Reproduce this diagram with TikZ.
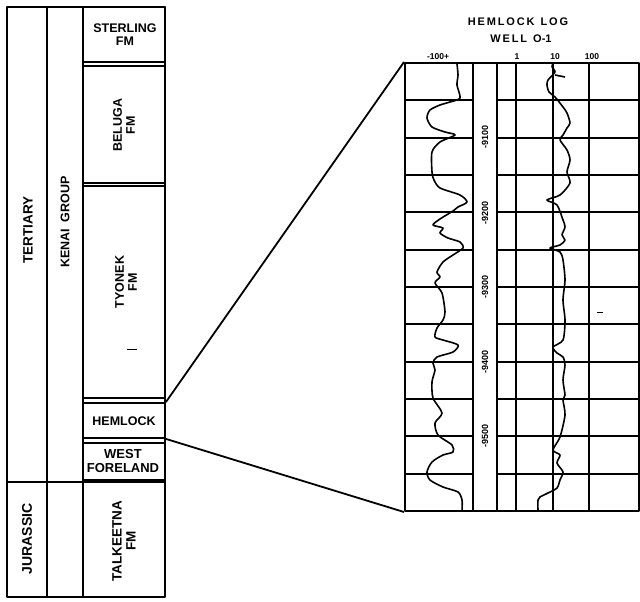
\documentclass[tikz,border=0pt]{standalone}
\usepackage{fontspec}
\setmainfont{Liberation Sans}
\begin{document}
\begin{tikzpicture}[x=1pt,y=-1pt,line join=round,
  box/.style={draw,line width=1.8pt,inner sep=0pt},
  lbl/.style={font=\fontsize{12.5}{13}\selectfont\bfseries,align=center,inner sep=0pt},
  vlbl/.style={lbl,rotate=90},
  gridline/.style={line width=2pt},
  curve/.style={line width=1.6pt},
  conn/.style={line width=1.8pt},
  depth/.style={font=\fontsize{9}{10}\selectfont\bfseries,rotate=90,inner sep=0pt},
  scalelbl/.style={font=\fontsize{8.5}{9}\selectfont\bfseries,inner sep=0pt}]
\useasboundingbox (0,0) rectangle (640,602);
% ---- stratigraphic column ----
\draw[box] (7,7) rectangle (165,597);
\draw[box] (47,7) -- (47,597);
\draw[box] (83,7) -- (83,597);
\draw[box] (7,482) -- (165,482);
\node[box,minimum width=82pt,minimum height=55pt] (sterling) at (124,34.5) {};
\node[box,minimum width=82pt,minimum height=117pt] (beluga) at (124,124.5) {};
\node[box,minimum width=82pt,minimum height=212pt] (tyonek) at (124,292) {};
\node[box,minimum width=82pt,minimum height=35pt] (hem) at (124,420.5) {};
\node[box,minimum width=82pt,minimum height=37pt] (westf) at (124,461.5) {};
\node[lbl] (tsterling) at (125,35) {STERLING\\FM};
\node[vlbl] (tbeluga) at (124,125) {BELUGA\\FM};
\node[vlbl] (ttyonek) at (126,282) {TYONEK\\FM};
\node[lbl] (themlock) at (124,421) {HEMLOCK};
\node[lbl,font=\fontsize{13}{14}\selectfont\bfseries] (twestf) at (123,461) {WEST\\FORELAND};
\node[vlbl,font=\fontsize{13.5}{14}\selectfont\bfseries] (ttalk) at (124,541) {TALKEETNA\\FM};
\node[vlbl,font=\fontsize{13.5}{14}\selectfont\bfseries] (ttert) at (28,230) {TERTIARY};
\node[vlbl] (tkenai) at (65,222) {KENAI\ \ GROUP};
\node[vlbl,font=\fontsize{14}{15}\selectfont\bfseries] (tjur) at (27,539) {JURASSIC};
\draw[line width=0.8pt] (127,349) -- (137,349);
% ---- log panel ----
\node[font=\fontsize{11}{12}\selectfont\bfseries,inner sep=0pt] (title1) at (518,22) {H\,E\,M\,L\,O\,C\,K\ \ L\,O\,G};
\node[font=\fontsize{11}{12}\selectfont\bfseries,inner sep=0pt] (title2) at (521,39) {W\,E\,L\,L\ \ O-1};
\node[scalelbl] (s1) at (438,57) {-100+};
\node[scalelbl] (s2) at (517,57) {1};
\node[scalelbl] (s3) at (555,57) {10};
\node[scalelbl] (s4) at (592,57) {100};
\node[draw,line width=2pt,minimum width=234pt,minimum height=448pt,inner sep=0pt] (log) at (522,287) {};
\foreach \k in {1,...,11}{
  \pgfmathsetmacro\yy{round(63+37.333*\k)}
  \draw[gridline] (405,\yy) -- (473,\yy);
  \draw[gridline] (497,\yy) -- (639,\yy);
}
\foreach \xx in {473,497,516,553,589}{
  \draw[gridline] (\xx,63) -- (\xx,511);
}
\node[depth] (d1) at (485,137) {-9100};
\node[depth] (d2) at (485,213) {-9200};
\node[depth] (d3) at (485,287) {-9300};
\node[depth] (d4) at (485,362) {-9400};
\node[depth] (d5) at (485,436) {-9500};
\draw[line width=0.8pt] (597,312) -- (603,312);
% SP curve
\draw[curve] plot[smooth,tension=0.45] coordinates {
(457,64) (458,75) (457,85) (460,98) (450,102) (440,105) (430,110) (427,118) (432,127) (445,132) (455,135) (440,142) (432,152) (432,172) (434,180) (440,188) (460,195) (467,202) (458,207) (453,211) (440,219) (433,225) (443,228) (440,233) (448,238) (460,242) (463,248) (453,255) (443,262) (437,272) (440,277) (435,283) (442,293) (445,312) (443,320) (437,328) (435,337) (443,340) (458,345) (453,352) (437,357) (433,363) (435,370) (432,382) (433,398) (442,413) (435,423) (438,435) (452,445) (453,452) (443,455) (432,462) (427,472) (430,480) (443,487) (458,492) (462,500) (462,511)};
% resistivity curve
\draw[curve] plot[smooth,tension=0.45] coordinates {
(553,63) (552,67) (555,72) (548,80) (547,85) (549,92) (555,97) (563,107) (567,113) (570,123) (567,128) (563,135) (560,140) (567,150) (570,160) (567,172) (570,183) (560,195) (547,200) (557,205) (563,220) (565,227) (562,235) (565,240) (560,245) (550,248) (560,252) (563,260) (565,280) (563,300) (565,320) (563,340) (553,347) (557,353) (563,357) (565,365) (563,380) (565,395) (563,400) (565,415) (560,437) (553,450) (560,455) (557,463) (563,472) (560,480) (557,488) (548,493) (540,497) (538,500) (538,511)};
\draw[curve] (555,75) -- (565,77);
% connectors
\draw[conn] (hem.north east) -- (log.north west);
\draw[conn] (hem.south east) -- (log.south west);
\end{tikzpicture}
\end{document}
